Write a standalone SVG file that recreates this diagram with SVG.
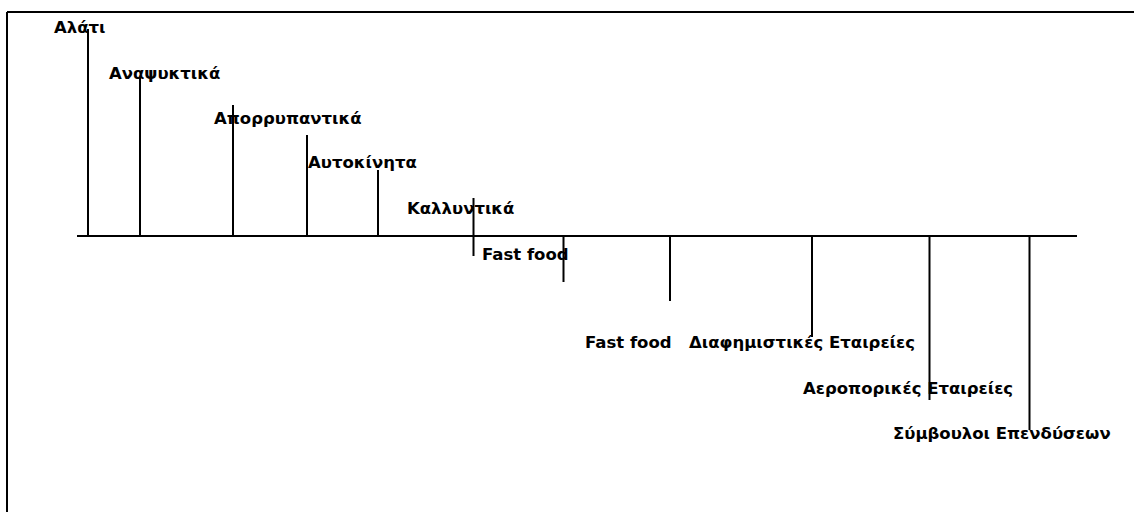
<svg xmlns="http://www.w3.org/2000/svg" width="1134" height="512" viewBox="0 0 1134 512">
<style>
.lbl{font-family:"DejaVu Sans","Noto Sans",sans-serif;font-weight:bold;font-size:16.5px;fill:#000}
.ln{stroke:#000;stroke-width:2;fill:none}
</style>
<rect width="1134" height="512" fill="#fff"/>
<g id="frame">
<path class="ln" d="M7 12H1134M7 12V512"/>
</g>
<g id="connectors">
<path class="ln" d="M77 236H1077"/>
<path class="ln" d="M88 29V236M140 78V236M233 105V236M307 135V236M378 170V236"/>
<path class="ln" d="M473.5 198V256M563.5 236V282M670 236V301M812 236V337M929.5 236V400M1029.5 236V430"/>
</g>
<g id="n1"><text class="lbl" x="54" y="33">Αλάτι</text></g>
<g id="n2"><text class="lbl" x="109" y="79">Αναψυκτικά</text></g>
<g id="n3"><text class="lbl" x="214" y="124">Απορρυπαντικά</text></g>
<g id="n4"><text class="lbl" x="308" y="168">Αυτοκίνητα</text></g>
<g id="n5"><text class="lbl" x="407" y="214">Καλλυντικά</text></g>
<g id="n6"><text class="lbl" x="482" y="260">Fast food</text></g>
<g id="n7"><text class="lbl" x="585" y="348">Fast food</text></g>
<g id="n8"><text class="lbl" x="689" y="348">Διαφημιστικές Εταιρείες</text></g>
<g id="n9"><text class="lbl" x="803" y="394">Αεροπορικές Εταιρείες</text></g>
<g id="n10"><text class="lbl" x="893" y="439">Σύμβουλοι Επενδύσεων</text></g>
</svg>
